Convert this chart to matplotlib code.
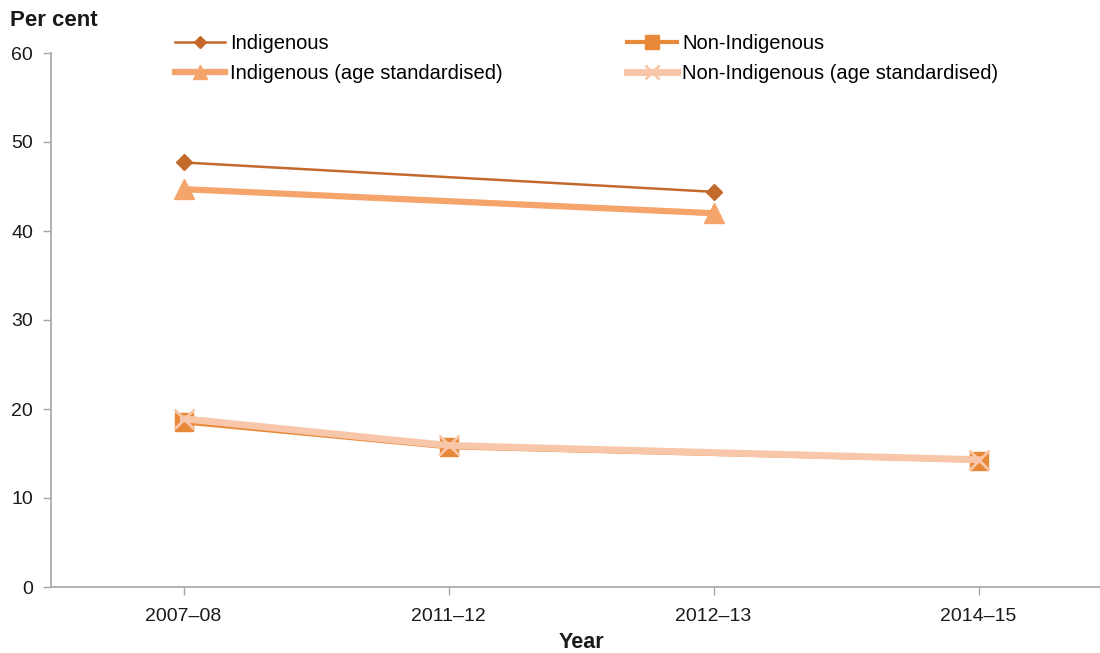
import numpy as np
import matplotlib
matplotlib.use("Agg")
import matplotlib.pyplot as plt

years = ["2007–08", "2011–12", "2012–13", "2014–15"]
indigenous = [47.7, np.nan, 44.4, np.nan]
non_indigenous = [18.5, 15.7, np.nan, 14.2]
indigenous_std = [44.7, np.nan, 42.0, np.nan]
non_indigenous_std = [18.9, 15.9, np.nan, 14.3]

plt.rcParams['font.family'] = ['Liberation Sans', 'DejaVu Sans']

fig = plt.figure(figsize=(11, 6.53), dpi=100)
ax = fig.add_axes([51/1100, 66/653, 1060/1100, 534/653])

x = np.arange(len(years))

def plot_series(vals, **kw):
    v = np.array(vals, dtype=float)
    m = ~np.isnan(v)
    return ax.plot(x[m], v[m], **kw)[0]

h1 = plot_series(indigenous, color='#C3692C', lw=1.8, marker='D', markersize=8,
                 label='Indigenous', zorder=3)
h2 = plot_series(non_indigenous, color='#E8893A', lw=3, marker='s', markersize=13,
                 label='Non-Indigenous', zorder=3)
h3 = plot_series(indigenous_std, color='#F5A46C', lw=4.5, marker='^', markersize=14,
                 label='Indigenous (age standardised)', zorder=3)
h4 = plot_series(non_indigenous_std, color='#F8C6A8', lw=5, marker='x', markersize=14,
                 markeredgewidth=2, label='Non-Indigenous (age standardised)', zorder=4)

ax.set_xlim(-0.5, 3.5)
ax.set_ylim(0, 60)
ax.set_yticks([0, 10, 20, 30, 40, 50, 60])
ax.set_xticks(x)
ax.set_xticklabels(years)

for s in ['top', 'right']:
    ax.spines[s].set_visible(False)
for s in ['left', 'bottom']:
    ax.spines[s].set_color('#A6A6A6')
    ax.spines[s].set_linewidth(1.2)
ax.tick_params(axis='both', colors='#A6A6A6', labelcolor='#1a1a1a', labelsize=14,
               length=6, width=1)
ax.tick_params(axis='x', pad=9)
ax.tick_params(axis='y', pad=7)

fig.text(10/1100, 1 - 20/653, 'Per cent', fontsize=16, fontweight='bold',
         va='center', ha='left', color='#1a1a1a')
fig.text(581/1100, 1 - 643/653, 'Year', fontsize=15.5, fontweight='bold',
         va='center', ha='center', color='#1a1a1a')

leg = fig.legend(handles=[h1, h3, h2, h4], ncol=2, loc='upper left',
                 bbox_to_anchor=(175/1100, 1 - 34/653), frameon=False,
                 fontsize=14.5, handlelength=2.5, handletextpad=0.25,
                 columnspacing=6.15, labelspacing=0.55, borderaxespad=0,
                 borderpad=0, markerscale=0.75)

fig.savefig('out.png', dpi=100)
